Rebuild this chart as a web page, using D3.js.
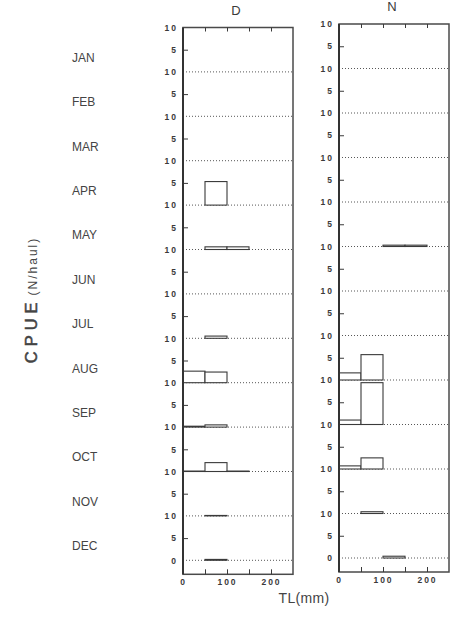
<!DOCTYPE html>
<html>
<head>
<meta charset="utf-8">
<script src="https://cdn.jsdelivr.net/npm/d3@7/dist/d3.min.js"></script>
<style>
  html, body { margin: 0; padding: 0; background: #fff; }
  svg { display: block; }
  .tick text { font-family: Arial, "Liberation Sans", sans-serif; }
</style>
</head>
<body>
<svg id="chart" width="459" height="617"></svg>
<script>
// Monthly CPUE (N/haul) by total length class, day (D) and night (N) hauls
const months = ["JAN","FEB","MAR","APR","MAY","JUN","JUL","AUG","SEP","OCT","NOV","DEC"];
const binStarts = [0, 50, 100, 150];     // TL class lower edges (mm)
const binWidth = 50;
const panelNames = ["D", "N"];

// CPUE per length class, one row per month (null = no catch)
const dayCPUE = [
  [null, null, null, null],  // JAN
  [null, null, null, null],  // FEB
  [null, null, null, null],  // MAR
  [null, 5.3,  null, null],  // APR
  [null, 0.6,  0.6,  null],  // MAY
  [null, null, null, null],  // JUN
  [null, 0.5,  null, null],  // JUL
  [2.6,  2.4,  null, null],  // AUG
  [0.2,  0.5,  null, null],  // SEP
  [0.1,  2.0,  0.1,  null],  // OCT
  [null, 0.1,  null, null],  // NOV
  [null, 0.2,  null, null]   // DEC
];
const nightCPUE = [
  [null, null, null, null],  // JAN
  [null, null, null, null],  // FEB
  [null, null, null, null],  // MAR
  [null, null, null, null],  // APR
  [null, null, 0.3,  0.3 ],  // MAY
  [null, null, null, null],  // JUN
  [null, null, null, null],  // JUL
  [1.6,  5.7,  null, null],  // AUG
  [1.0,  9.4,  null, null],  // SEP
  [0.7,  2.5,  null, null],  // OCT
  [null, 0.4,  null, null],  // NOV
  [null, null, 0.4,  null]   // DEC
];

const xTicks = [0, 50, 100, 150, 200];
const xTickLabels = [0, 100, 200];
const yDomain = [0, 10];

const svg = d3.select("#chart");
const ink = "#3a3a3a";

// panel layout
const panels = [
  { name: panelNames[0], data: dayCPUE,   x0: 183, x1: 293, top: 27.5, rowH: 44.4 },
  { name: panelNames[1], data: nightCPUE, x0: 339, x1: 449, top: 24,   rowH: 44.5 }
];

panels.forEach(p => {
  const g = svg.append("g");
  const x = d3.scaleLinear().domain([0, 250]).range([p.x0, p.x1]);
  const bottomZero = p.top + p.rowH * months.length;
  const frameBottom = bottomZero + 14;

  // panel title
  g.append("text")
    .attr("x", (p.x0 + p.x1) / 2 - 2)
    .attr("y", p.top - 13)
    .attr("text-anchor", "middle")
    .attr("font-family", "Arial, 'Liberation Sans', sans-serif")
    .attr("font-size", 13)
    .attr("fill", ink)
    .text(p.name);

  months.forEach((m, i) => {
    const base = p.top + p.rowH * (i + 1);
    const y = d3.scaleLinear().domain(yDomain).range([base, base - p.rowH]);

    // dotted baseline of the month row
    g.append("line")
      .attr("x1", x(0)).attr("x2", x(250))
      .attr("y1", y(0)).attr("y2", y(0))
      .attr("stroke", "#444").attr("stroke-width", 0.9)
      .attr("stroke-dasharray", "1,2");

    // left axis: labels at 10 (top of row) and the inner tick at 5
    const vals = i === months.length - 1 ? [0, 5, 10] : [5, 10];
    const ax = g.append("g")
      .attr("transform", `translate(${x(0)},0)`)
      .call(d3.axisLeft(y).tickValues(vals).tickSize(-5).tickPadding(5)
        .tickFormat(d => d3.format("d")(d)));
    ax.select(".domain").remove();
    ax.selectAll(".tick line")
      .attr("stroke", ink).attr("stroke-width", 1)
      .attr("display", d => d === 5 ? null : "none");
    ax.selectAll(".tick text")
      .attr("font-size", 8.5).attr("font-weight", "bold")
      .attr("letter-spacing", 2).attr("fill", ink);

    // length-class bars
    const rows = binStarts.map((b, k) => ({ b, v: p.data[i][k] }))
      .filter(d => d.v !== null);
    g.selectAll(null).data(rows).enter().append("rect")
      .attr("x", d => x(d.b))
      .attr("width", d => x(d.b + binWidth) - x(d.b))
      .attr("y", d => y(d.v))
      .attr("height", d => y(0) - y(d.v))
      .attr("fill", "#fff")
      .attr("stroke", ink)
      .attr("stroke-width", 1.1);
  });

  // frame
  g.append("rect")
    .attr("x", x(0)).attr("y", p.top)
    .attr("width", x(250) - x(0)).attr("height", frameBottom - p.top)
    .attr("fill", "none").attr("stroke", "#4a4a4a").attr("stroke-width", 1.5);
  g.append("line")
    .attr("x1", x(0)).attr("x2", x(0)).attr("y1", p.top).attr("y2", frameBottom)
    .attr("stroke", "#333").attr("stroke-width", 2);

  // bottom axis with inward ticks
  const bx = g.append("g")
    .attr("transform", `translate(0,${frameBottom})`)
    .call(d3.axisBottom(x).tickValues(xTicks).tickSize(-5).tickPadding(5)
      .tickFormat(d => xTickLabels.includes(d) ? d : ""));
  bx.select(".domain").remove();
  bx.selectAll(".tick line").attr("stroke", ink).attr("display", d => d === 0 ? "none" : null);
  bx.selectAll(".tick text")
    .attr("font-size", 8.5).attr("font-weight", "bold")
    .attr("letter-spacing", 2).attr("fill", ink);

  // top axis with inward ticks, no labels
  const tx = g.append("g")
    .attr("transform", `translate(0,${p.top})`)
    .call(d3.axisTop(x).tickValues(xTicks.slice(1)).tickSize(-4).tickFormat(""));
  tx.select(".domain").remove();
  tx.selectAll(".tick line").attr("stroke", ink);
});

// month labels
const rowLab = d3.scaleBand().domain(months).range([27.5, 27.5 + 44.4 * 12]);
svg.selectAll(".month").data(months).enter().append("text")
  .attr("class", "month")
  .attr("x", 72)
  .attr("y", d => rowLab(d) + rowLab.bandwidth() / 2 + 12)
  .attr("font-family", "Arial, 'Liberation Sans', sans-serif")
  .attr("font-size", 12)
  .attr("fill", "#444")
  .text(d => d);

// y-axis title
const yt = svg.append("text")
  .attr("transform", "translate(37,300) rotate(-90)")
  .attr("text-anchor", "middle")
  .attr("font-family", "Arial, 'Liberation Sans', sans-serif")
  .attr("fill", "#444");
yt.append("tspan").attr("font-size", 16.5)
  .attr("stroke", "#444").attr("stroke-width", 0.5)
  .attr("letter-spacing", 5).text("CPUE");
yt.append("tspan").attr("font-size", 12).attr("dx", 2)
  .attr("letter-spacing", 2).text("(N/haul)");

// x-axis title
svg.append("text")
  .attr("x", 304).attr("y", 603)
  .attr("text-anchor", "middle")
  .attr("font-family", "Arial, 'Liberation Sans', sans-serif")
  .attr("font-size", 14)
  .attr("letter-spacing", 0.3)
  .attr("fill", "#444")
  .text("TL(mm)");
</script>
</body>
</html>
